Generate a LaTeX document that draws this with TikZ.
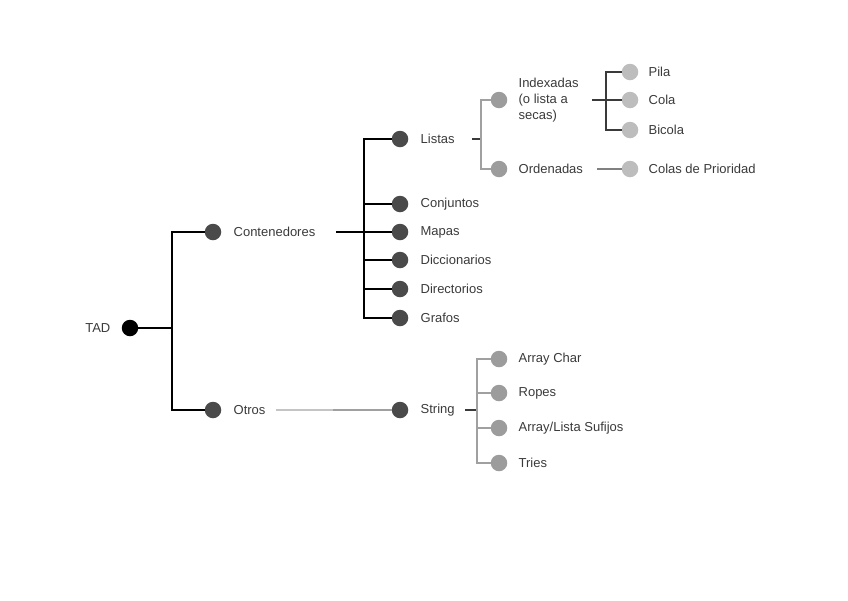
\documentclass[tikz,border=0pt]{standalone}
\usepackage{fontspec}
\setmainfont{Liberation Sans}
\usetikzlibrary{positioning}
\definecolor{txt}{HTML}{3A3A3A}
\definecolor{lvlone}{HTML}{4A4A4A}
\definecolor{lvltwo}{HTML}{9C9C9C}
\definecolor{lvlthree}{HTML}{BDBDBD}
\definecolor{linkgrey}{HTML}{A0A0A0}
\definecolor{linklight}{HTML}{C4C4C4}
\begin{document}
\begin{tikzpicture}[
  x=1pt, y=-1pt,
  dot/.style={circle, minimum size=16.5pt, inner sep=0pt},
  dot0/.style={dot, fill=black},
  dot1/.style={dot, fill=lvlone},
  dot2/.style={dot, fill=lvltwo},
  dot3/.style={dot, fill=lvlthree},
  lab/.style={inner sep=0pt, text=txt, align=left, font=\fontsize{13}{16}\selectfont},
  link/.style={draw, line width=1.05pt},
  ]
  \useasboundingbox (0,0) rectangle (848,600);
  % dots
  \node[dot0] (tad) at (130,328) {};
  \node[dot1] (cont) at (213,232) {};
  \node[dot1] (otros) at (213,410) {};
  \node[dot1] (list) at (400,139) {};
  \node[dot1] (conj) at (400,204) {};
  \node[dot1] (mapa) at (400,232) {};
  \node[dot1] (dicc) at (400,260) {};
  \node[dot1] (dire) at (400,289) {};
  \node[dot1] (graf) at (400,318) {};
  \node[dot2] (idx) at (499,100) {};
  \node[dot2] (ord) at (499,169) {};
  \node[dot3] (pila) at (630,72) {};
  \node[dot3] (cola) at (630,100) {};
  \node[dot3] (bico) at (630,130) {};
  \node[dot3] (prio) at (630,169) {};
  \node[dot1] (str) at (400,410) {};
  \node[dot2] (achr) at (499,359) {};
  \node[dot2] (rope) at (499,393) {};
  \node[dot2] (asuf) at (499,428) {};
  \node[dot2] (trie) at (499,463) {};
  % labels
  \node[lab, left=11pt of tad] (tad-l) {TAD};
  \node[lab, right=12pt of cont] (cont-l) {Contenedores};
  \node[lab, right=12pt of otros] (otros-l) {Otros};
  \node[lab, right=12pt of list] (list-l) {Listas};
  \node[lab, right=12pt of conj] (conj-l) {Conjuntos};
  \node[lab, right=12pt of mapa] (mapa-l) {Mapas};
  \node[lab, right=12pt of dicc] (dicc-l) {Diccionarios};
  \node[lab, right=12pt of dire] (dire-l) {Directorios};
  \node[lab, right=12pt of graf] (graf-l) {Grafos};
  \node[lab, right=11pt of idx] (idx-l) {Indexadas\\(o lista a\\secas)};
  \node[lab, right=11pt of ord] (ord-l) {Ordenadas};
  \node[lab, right=10pt of pila] (pila-l) {Pila};
  \node[lab, right=10pt of cola] (cola-l) {Cola};
  \node[lab, right=10pt of bico] (bico-l) {Bicola};
  \node[lab, right=10pt of prio] (prio-l) {Colas de Prioridad};
  \node[lab, right=12pt of str] (str-l) {String};
  \node[lab, right=11pt of achr] (achr-l) {Array Char};
  \node[lab, right=11pt of rope] (rope-l) {Ropes};
  \node[lab, right=11pt of asuf] (asuf-l) {Array/Lista Sufijos};
  \node[lab, right=11pt of trie] (trie-l) {Tries};
  % joints
  \coordinate (b1) at (172,328);
  \coordinate (s2) at (336,232);
  \coordinate (b2) at (364,232);
  \coordinate (s3) at (472,139);
  \coordinate (b3) at (481,139);
  \coordinate (s4) at (592,100);
  \coordinate (b4) at (606,100);
  \coordinate (s5) at (597,169);
  \coordinate (s6) at (276,410);
  \coordinate (m6) at (333,410);
  \coordinate (s7) at (465,410);
  \coordinate (b7) at (477,410);
  % links
  \path[link, black] (tad) -- (b1);
  \foreach \n in {cont,otros}
    \path[link, black] (b1) |- (\n);
  \path[link, black] (s2) -- (b2);
  \foreach \n in {list,conj,mapa,dicc,dire,graf}
    \path[link, black] (b2) |- (\n);
  \path[link, txt] (s3) -- (b3);
  \foreach \n in {idx,ord}
    \path[link, linkgrey] (b3) |- (\n);
  \path[link, txt] (s4) -- (b4);
  \foreach \n in {pila,cola,bico}
    \path[link, txt] (b4) |- (\n);
  \path[link, gray] (s5) -- (prio);
  \path[link, linklight] (s6) -- (m6);
  \path[link, linkgrey] (m6) -- (str);
  \path[link, txt] (s7) -- (b7);
  \foreach \n in {achr,rope,asuf,trie}
    \path[link, linkgrey] (b7) |- (\n);
\end{tikzpicture}
\end{document}
